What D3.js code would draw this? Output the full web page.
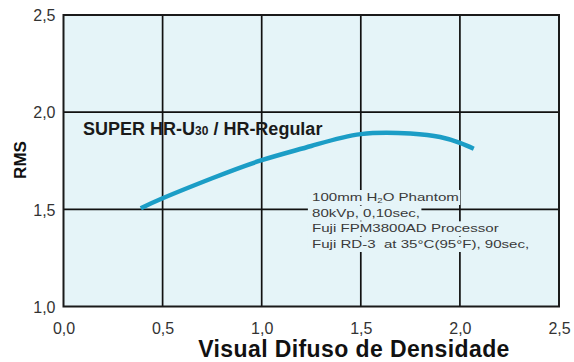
<!DOCTYPE html>
<html>
<head>
<meta charset="utf-8">
<script src="https://cdn.jsdelivr.net/npm/d3@7"></script>
<style>
  html, body { margin: 0; padding: 0; background: #ffffff; }
  svg { display: block; font-family: "Liberation Sans", Arial, Helvetica, sans-serif; }
</style>
</head>
<body>
<svg id="chart" width="574" height="362"></svg>
<script>
// ---- data ----
const densityValues = [0.39, 0.5, 0.75, 1.0, 1.25, 1.5, 1.75, 1.9, 2.0, 2.07];
const rmsValues     = [1.505, 1.557, 1.66, 1.753, 1.826, 1.887, 1.89, 1.872, 1.842, 1.812];
const xTicks = [0, 0.5, 1.0, 1.5, 2.0, 2.5];
const yTicks = [1.0, 1.5, 2.0, 2.5];
const xTickLabels = ["0,0", "0,5", "1,0", "1,5", "2,0", "2,5"];
const yTickLabels = ["1,0", "1,5", "2,0", "2,5"];
const seriesName = ["SUPER HR-U", "30", " / HR-Regular"];
const noteLines = [
  ["100mm H", "2", "O Phantom"],
  ["80kVp, 0,10sec,"],
  ["Fuji FPM3800AD Processor"],
  ["Fuji RD-3  at 35°C(95°F), 90sec,"]
];
const xTitle = "Visual Difuso de Densidade";
const yTitle = "RMS";

// ---- layout ----
const svg = d3.select("#chart");
const pLeft = 63.5, pRight = 559, pTop = 15, pBottom = 306.5;
const x = d3.scaleLinear().domain([0, 2.5]).range([pLeft, pRight]);
const y = d3.scaleLinear().domain([1.0, 2.5]).range([pBottom, pTop]);
const bg = "#e5f4f8";

svg.append("rect")
  .attr("x", pLeft).attr("y", pTop)
  .attr("width", pRight - pLeft).attr("height", pBottom - pTop)
  .attr("fill", bg);

// gridlines
const grid = svg.append("g").attr("stroke", "#111").attr("stroke-width", 1.7);
grid.selectAll("line.v").data(xTicks.slice(1, -1)).join("line")
  .attr("class", "v")
  .attr("x1", d => x(d)).attr("x2", d => x(d))
  .attr("y1", pTop).attr("y2", pBottom);
grid.selectAll("line.h").data(yTicks.slice(1, -1)).join("line")
  .attr("class", "h")
  .attr("x1", pLeft).attr("x2", pRight)
  .attr("y1", d => y(d)).attr("y2", d => y(d));

// note text with knocked-out background per line
const noteG = svg.append("g").attr("transform", "translate(312,0) scale(1.37,1)");
const noteBaselines = [201, 216.7, 232.3, 248];
const noteTexts = noteG.selectAll("text").data(noteLines).join("text")
  .attr("x", 0).attr("y", (d, i) => noteBaselines[i])
  .attr("font-size", 11).attr("fill", "#3a3a3a")
  .style("white-space", "pre");
noteTexts.each(function(parts) {
  const t = d3.select(this);
  parts.forEach((p, j) => {
    const ts = t.append("tspan").text(p);
    if (parts.length === 3 && j === 1) {
      ts.attr("font-size", 7).attr("dy", 2);
    } else if (parts.length === 3 && j === 2) {
      ts.attr("dy", -2);
    }
  });
});
noteTexts.each(function(d, i) {
  const bb = this.getBBox();
  noteG.insert("rect", "text")
    .attr("x", bb.x - 3).attr("y", noteBaselines[i] - 11)
    .attr("width", bb.width + 4).attr("height", 15)
    .attr("fill", bg);
});

// frame
svg.append("rect")
  .attr("x", pLeft).attr("y", pTop)
  .attr("width", pRight - pLeft).attr("height", pBottom - pTop)
  .attr("fill", "none").attr("stroke", "#1a1a1a").attr("stroke-width", 2);

// curve
const line = d3.line()
  .x((d, i) => x(densityValues[i]))
  .y((d, i) => y(rmsValues[i]))
  .curve(d3.curveNatural);
svg.append("path")
  .datum(rmsValues)
  .attr("d", line)
  .attr("fill", "none")
  .attr("stroke", "#1b9dc6")
  .attr("stroke-width", 4.5)
  .attr("stroke-linecap", "butt");

// series label
const lab = svg.append("text")
  .attr("x", 83).attr("y", 135)
  .attr("font-size", 18).attr("font-weight", "bold").attr("fill", "#1a1a1a");
lab.append("tspan").text(seriesName[0]);
lab.append("tspan").text(seriesName[1]).attr("font-size", 12);
lab.append("tspan").text(seriesName[2]);

// axes tick labels
const xAxis = d3.axisBottom(x).tickValues(xTicks)
  .tickFormat((d, i) => xTickLabels[i]).tickSize(0).tickPadding(0);
const xg = svg.append("g").attr("transform", `translate(0,${pBottom})`).call(xAxis);
xg.select(".domain").remove();
xg.selectAll("text")
  .attr("y", 27).attr("dy", 0)
  .attr("font-size", 16).attr("fill", "#333")
  .attr("font-family", "'Liberation Sans', Arial, sans-serif");

const yAxis = d3.axisLeft(y).tickValues(yTicks)
  .tickFormat((d, i) => yTickLabels[i]).tickSize(0).tickPadding(0);
const yg = svg.append("g").attr("transform", `translate(${pLeft},0)`).call(yAxis);
yg.select(".domain").remove();
yg.selectAll("text")
  .attr("x", -8).attr("dy", "0.36em")
  .attr("font-size", 16).attr("fill", "#333")
  .attr("font-family", "'Liberation Sans', Arial, sans-serif");

// axis titles
svg.append("text")
  .attr("x", 354).attr("y", 357)
  .attr("text-anchor", "middle")
  .attr("font-size", 23).attr("font-weight", "bold").attr("fill", "#111")
  .attr("letter-spacing", 0.4)
  .text(xTitle);

svg.append("text")
  .attr("transform", "translate(26,160) rotate(-90)")
  .attr("text-anchor", "middle")
  .attr("font-size", 17).attr("font-weight", "bold").attr("fill", "#111")
  .text(yTitle);
</script>
</body>
</html>
